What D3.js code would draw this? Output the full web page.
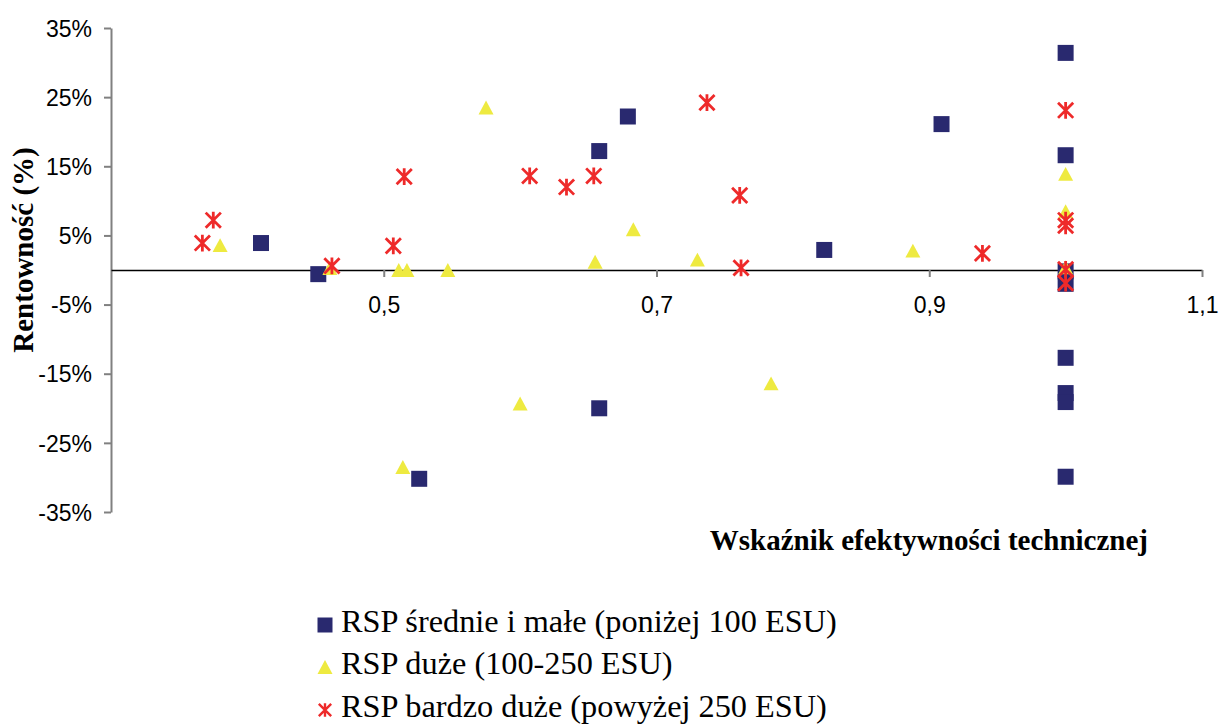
<!DOCTYPE html>
<html><head><meta charset="utf-8">
<script src="https://cdn.jsdelivr.net/npm/d3@7"></script>
<style>body{margin:0;background:#fff} svg{display:block}</style>
</head><body><svg id="c" width="1220" height="726"></svg>
<script>
const xTicks = [0.5, 0.7, 0.9, 1.1];
const yTicks = [-35, -25, -15, -5, 5, 15, 25, 35];
const seriesNames = ["RSP średnie i małe (poniżej 100 ESU)", "RSP duże (100-250 ESU)", "RSP bardzo duże (powyżej 250 ESU)"];
const smallX = [0.41, 0.452, 0.526, 0.658, 0.679, 0.658, 0.823, 0.909, 1.0, 1.0, 1.0, 1.0, 1.0, 1.0, 1.0, 1.0];
const smallY = [3.9, -0.6, -30.2, 17.2, 22.2, -20.0, 2.9, 21.1, 31.4, 16.6, -0.2, -2.0, -12.7, -17.8, -19.1, -29.9];
const largeX = [0.38, 0.4605, 0.511, 0.517, 0.547, 0.575, 0.655, 0.683, 0.730, 0.60, 0.514, 0.784, 0.888, 1.0, 1.0, 1.0];
const largeY = [3.6, 0.3, 0, 0, 0, 23.5, 1.2, 5.9, 1.5, -19.3, -28.5, -16.4, 2.8, 13.9, 8.5, 0.4];
const vlargeX = [0.367, 0.375, 0.462, 0.507, 0.515, 0.607, 0.634, 0.654, 0.737, 0.761, 0.762, 0.939, 1.0, 1.0, 1.0, 1.0, 1.0];
const vlargeY = [3.9, 7.2, 0.6, 3.5, 13.5, 13.6, 12.0, 13.6, 24.2, 10.8, 0.3, 2.4, 23.1, 7.2, 6.4, 0.1, -1.9];
const colors = ["#29296f", "#eeea40", "#ee2a2a"];

const svg = d3.select("#c");
const x = d3.scaleLinear().domain([0.3, 1.1]).range([111, 1202]);
const y = d3.scaleLinear().domain([-35, 35]).range([512, 28]);

const sqSym = {draw(ctx, s){ const h=s/2; ctx.moveTo(-h,-h); ctx.lineTo(h,-h); ctx.lineTo(h,h); ctx.lineTo(-h,h); ctx.closePath(); }};
const triSym = {draw(ctx, s){ const h=s/2; const ht=s*0.93; ctx.moveTo(0,-ht/2); ctx.lineTo(h,ht/2); ctx.lineTo(-h,ht/2); ctx.closePath(); }};
const starSym = {draw(ctx, s){ const h=s/2; const d=h*0.95; ctx.moveTo(-d,-d); ctx.lineTo(d,d); ctx.moveTo(d,-d); ctx.lineTo(-d,d); ctx.moveTo(0,-h*1.05); ctx.lineTo(0,h*1.05); }};

const sans = "Liberation Sans, Arial, sans-serif";
const serif = "Liberation Serif, Times New Roman, serif";

const yAxis = d3.axisLeft(y).tickValues(yTicks).tickSize(7).tickSizeOuter(0).tickPadding(12).tickFormat(d => d + "%");
const gy = svg.append("g").attr("transform", "translate(111,0)").call(yAxis);
gy.select(".domain").attr("stroke", "#808080").attr("stroke-width", 2);
gy.selectAll(".tick line").attr("stroke", "#808080").attr("stroke-width", 2);
gy.selectAll(".tick text").attr("font-family", sans).attr("font-size", 23).attr("fill", "#000").attr("dy", "0.36em");

const xAxis = d3.axisBottom(x).tickValues(xTicks).tickSize(7).tickSizeOuter(0).tickFormat(d => d3.format(".1f")(d).replace(".", ","));
const gx = svg.append("g").attr("transform", `translate(0,${y(0)})`).call(xAxis);
gx.select(".domain").attr("stroke", "#000").attr("stroke-width", 1.5);
gx.selectAll(".tick line").attr("stroke", "#808080").attr("stroke-width", 2);
gx.selectAll(".tick text").attr("font-family", sans).attr("font-size", 23).attr("fill", "#000").attr("y", 43).attr("dy", 0);

svg.append("text").attr("transform", `translate(33,250) rotate(-90)`).attr("text-anchor", "middle")
  .attr("font-family", serif).attr("font-weight", "bold").attr("font-size", 29).text("Rentowność (%)");
svg.append("text").attr("x", 1148).attr("y", 550).attr("text-anchor", "end")
  .attr("font-family", serif).attr("font-weight", "bold").attr("font-size", 29).text("Wskaźnik efektywności technicznej");

const series = [
  {xs: smallX, ys: smallY, sym: sqSym, size: 16, fill: colors[0], stroke: "none"},
  {xs: largeX, ys: largeY, sym: triSym, size: 15, fill: colors[1], stroke: "none"},
  {xs: vlargeX, ys: vlargeY, sym: starSym, size: 16, fill: "none", stroke: colors[2]}
];
series.forEach(s => {
  const pts = s.xs.map((v, i) => [v, s.ys[i]]);
  svg.append("g").selectAll("path").data(pts).join("path")
    .attr("transform", d => `translate(${x(d[0])},${y(d[1])})`)
    .attr("d", d3.symbol(s.sym, s.size))
    .attr("fill", s.fill).attr("stroke", s.stroke).attr("stroke-width", 2.8);
});

const legendRows = [625, 667, 710];
const legendSizes = [15, 15, 13];
series.forEach((s, i) => {
  svg.append("path").attr("transform", `translate(325,${legendRows[i]})`)
    .attr("d", d3.symbol(s.sym, legendSizes[i])).attr("fill", s.fill).attr("stroke", s.stroke).attr("stroke-width", 2.4);
  svg.append("text").attr("x", 341).attr("y", legendRows[i] + 7).attr("font-family", serif)
    .attr("font-size", 32.3).attr("fill", "#000").text(seriesNames[i]);
});
</script></body></html>
